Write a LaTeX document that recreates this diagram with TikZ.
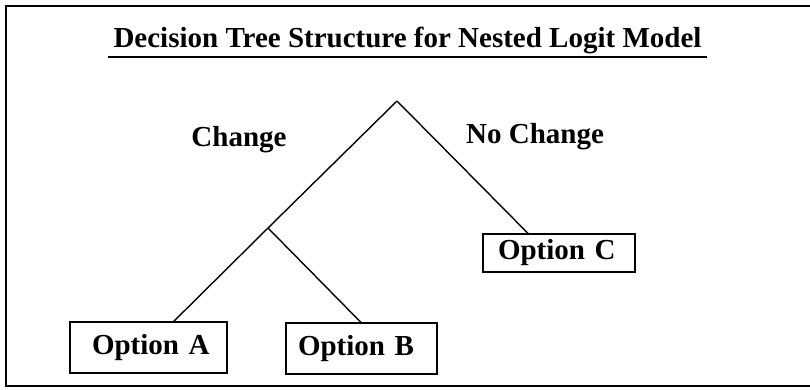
\documentclass[tikz,border=0pt]{standalone}
\usepackage{fontspec}
\setmainfont{Liberation Serif}

\begin{document}
\begin{tikzpicture}[x=1pt,y=1pt,
    lbl/.style={font=\bfseries\fontsize{29}{32}\selectfont},
    optbox/.style={lbl,draw,line width=1.3pt,outer sep=0pt,inner ysep=0pt,align=left},
    branch/.style={line width=1.4pt}]
  \useasboundingbox (0,0) rectangle (810,389);
  \draw[line width=1.5pt] (810,383) -- (6,383) -- (6,3) -- (810,3);
  \node[lbl,anchor=base,inner xsep=6pt,inner ysep=2.7pt,outer sep=0pt] (title) at (407.5,341) {Decision Tree Structure for Nested Logit Model};
  \draw[line width=1.5pt] (title.south west) -- (title.south east);
  \coordinate (top) at (397,288);
  \coordinate (split) at (268,161);
  \node[lbl] (chg) at (239,249) {Change};
  \node[lbl] (nochg) at (535,252) {No Change};
  \node[optbox,inner xsep=22pt,text width=113pt,minimum height=51pt] (optA) at (148.5,41.5) {Option~A};
  \node[optbox,inner xsep=12pt,text width=127pt,minimum height=51pt] (optB) at (361.5,40.5) {Option~B};
  \node[optbox,inner xsep=15pt,text width=122pt,minimum height=38pt] (optC) at (559,136) {Option~C};
  \draw[branch] (top) -- (split) -- (optA.46);
  \draw[branch] (split) -- (optB.north);
  \draw[branch] (top) -- (optC.148);
\end{tikzpicture}
\end{document}
